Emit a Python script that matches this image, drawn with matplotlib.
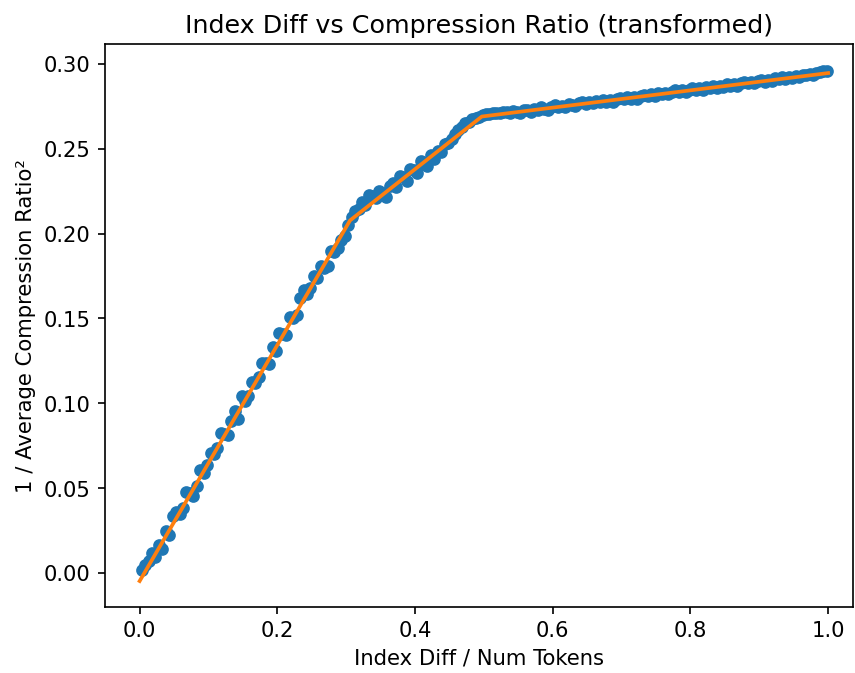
import matplotlib
matplotlib.use("Agg")
import matplotlib.pyplot as plt

# точки (x = index diff / num tokens, y = 1 / ratio^2)
x = [
    0.003, 0.008, 0.013, 0.018, 0.023, 0.028, 0.033, 0.038, 0.043, 0.048,
    0.053, 0.058, 0.063, 0.068, 0.073, 0.078, 0.083, 0.088, 0.093, 0.098,
    0.103, 0.108, 0.113, 0.118, 0.123, 0.128, 0.133, 0.138, 0.143, 0.148,
    0.153, 0.158, 0.163, 0.168, 0.173, 0.178, 0.183, 0.188, 0.193, 0.198,
    0.203, 0.208, 0.213, 0.218, 0.223, 0.228, 0.233, 0.238, 0.243, 0.248,
    0.253, 0.258, 0.263, 0.268, 0.273, 0.278, 0.283, 0.288, 0.293, 0.298,
    0.303, 0.308, 0.313, 0.318, 0.323, 0.328, 0.333, 0.338, 0.343, 0.348,
    0.353, 0.358, 0.363, 0.368, 0.373, 0.378, 0.383, 0.388, 0.393, 0.398,
    0.403, 0.408, 0.413, 0.418, 0.423, 0.428, 0.433, 0.438, 0.443, 0.448,
    0.453, 0.458, 0.463, 0.468, 0.473, 0.478, 0.483, 0.488, 0.493, 0.498,
    0.503, 0.508, 0.513, 0.518, 0.523, 0.528, 0.533, 0.538, 0.543, 0.548,
    0.553, 0.558, 0.563, 0.568, 0.573, 0.578, 0.583, 0.588, 0.593, 0.598,
    0.603, 0.608, 0.613, 0.618, 0.623, 0.628, 0.633, 0.638, 0.643, 0.648,
    0.653, 0.658, 0.663, 0.668, 0.673, 0.678, 0.683, 0.688, 0.693, 0.698,
    0.703, 0.708, 0.713, 0.718, 0.723, 0.728, 0.733, 0.738, 0.743, 0.748,
    0.753, 0.758, 0.763, 0.768, 0.773, 0.778, 0.783, 0.788, 0.793, 0.798,
    0.803, 0.808, 0.813, 0.818, 0.823, 0.828, 0.833, 0.838, 0.843, 0.848,
    0.853, 0.858, 0.863, 0.868, 0.873, 0.878, 0.883, 0.888, 0.893, 0.898,
    0.903, 0.908, 0.913, 0.918, 0.923, 0.928, 0.933, 0.938, 0.943, 0.948,
    0.953, 0.958, 0.963, 0.968, 0.973, 0.978, 0.983, 0.988, 0.993, 0.998,
]
y = [
    0.0019, 0.0049, 0.0073, 0.0118, 0.0093, 0.0168, 0.0142, 0.0247, 0.0222, 0.0337,
    0.0361, 0.0346, 0.0381, 0.0476, 0.0470, 0.0455, 0.0510, 0.0605, 0.0589, 0.0634,
    0.0709, 0.0704, 0.0738, 0.0823, 0.0818, 0.0813, 0.0897, 0.0952, 0.0907, 0.1042,
    0.1016, 0.1041, 0.1126, 0.1121, 0.1155, 0.1240, 0.1235, 0.1230, 0.1334, 0.1309,
    0.1414, 0.1409, 0.1403, 0.1508, 0.1503, 0.1518, 0.1622, 0.1667, 0.1642, 0.1677,
    0.1751, 0.1736, 0.1811, 0.1796, 0.1810, 0.1895, 0.1890, 0.1915, 0.1959, 0.1984,
    0.2049, 0.2095, 0.2131, 0.2147, 0.2183, 0.2169, 0.2225, 0.2221, 0.2207, 0.2253,
    0.2239, 0.2215, 0.2281, 0.2297, 0.2273, 0.2339, 0.2335, 0.2311, 0.2377, 0.2373,
    0.2359, 0.2425, 0.2411, 0.2397, 0.2463, 0.2439, 0.2485, 0.2481, 0.2527, 0.2533,
    0.2559, 0.2585, 0.2611, 0.2627, 0.2653, 0.2659, 0.2675, 0.2681, 0.2687, 0.2700,
    0.2705, 0.2703, 0.2711, 0.2709, 0.2707, 0.2716, 0.2714, 0.2707, 0.2721, 0.2718,
    0.2712, 0.2730, 0.2726, 0.2718, 0.2733, 0.2727, 0.2743, 0.2734, 0.2730, 0.2747,
    0.2756, 0.2743, 0.2753, 0.2744, 0.2763, 0.2757, 0.2751, 0.2766, 0.2775, 0.2763,
    0.2772, 0.2766, 0.2782, 0.2775, 0.2789, 0.2777, 0.2788, 0.2777, 0.2792, 0.2801,
    0.2792, 0.2803, 0.2792, 0.2805, 0.2793, 0.2808, 0.2818, 0.2807, 0.2819, 0.2811,
    0.2830, 0.2821, 0.2830, 0.2819, 0.2833, 0.2844, 0.2831, 0.2844, 0.2834, 0.2845,
    0.2855, 0.2843, 0.2855, 0.2843, 0.2863, 0.2857, 0.2871, 0.2857, 0.2869, 0.2865,
    0.2879, 0.2871, 0.2881, 0.2870, 0.2885, 0.2895, 0.2884, 0.2895, 0.2885, 0.2897,
    0.2906, 0.2895, 0.2907, 0.2896, 0.2914, 0.2910, 0.2922, 0.2909, 0.2921, 0.2917,
    0.2930, 0.2919, 0.2933, 0.2932, 0.2941, 0.2931, 0.2944, 0.2951, 0.2957, 0.2955,
]

# кусочно-линейная аппроксимация (узлы)
fit_x = [0.0, 0.3056, 0.497, 1.0]
fit_y = [-0.0047, 0.2077, 0.2689, 0.2945]

fig = plt.figure(figsize=(6.4, 5.04), dpi=133.6)
ax = fig.add_axes([0.1225, 0.098, 0.875, 0.8366])

ax.scatter(x, y, color='C0', s=34)
ax.plot(fit_x, fit_y, color='C1', linewidth=2.0)

ax.set_xlim(-0.0507, 1.036)
ax.set_ylim(-0.020, 0.3118)
ax.set_title('Index Diff vs Compression Ratio (transformed)', fontsize=13.7)
ax.set_xlabel('Index Diff / Num Tokens', fontsize=11.4)
ax.set_ylabel('1 / Average Compression Ratio²', fontsize=11.4)
ax.tick_params(labelsize=11.4, length=4, width=0.9)
for s in ax.spines.values():
    s.set_linewidth(0.9)

fig.savefig('out.png', dpi=133.6)
